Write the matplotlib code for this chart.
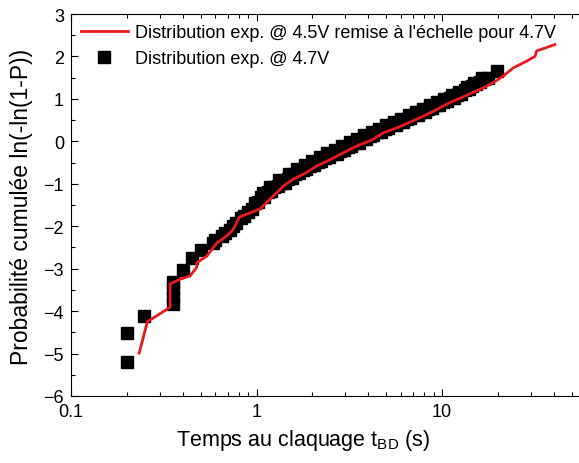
import matplotlib
matplotlib.use("Agg")
import matplotlib.pyplot as plt
from matplotlib.ticker import LogLocator, MultipleLocator, FixedLocator, NullFormatter

plt.rcParams['font.family'] = ['Liberation Sans', 'DejaVu Sans']

# Measured breakdown times at 4.7 V (Weibull plot)
t_47 = [0.20, 0.20, 0.248, 0.353, 0.353, 0.353, 0.353, 0.40, 0.45, 0.50,
        0.58, 0.60, 0.65, 0.68, 0.72, 0.75, 0.78, 0.82, 0.86, 0.90,
        0.94, 0.98, 1.02, 1.06, 1.10, 1.15, 1.20, 1.25, 1.30, 1.36,
        1.42, 1.48, 1.55, 1.62, 1.70, 1.78, 1.86, 1.95, 2.04, 2.14,
        2.24, 2.35, 2.46, 2.58, 2.70, 2.83, 2.96, 3.10, 3.25, 3.40,
        3.56, 3.73, 3.90, 4.08, 4.27, 4.47, 4.68, 4.90, 5.13, 5.37,
        5.62, 5.88, 6.15, 6.44, 6.74, 7.05, 7.38, 7.72, 8.08, 8.45,
        8.84, 9.25, 9.68, 10.1, 10.6, 11.1, 11.6, 12.1, 12.7, 13.3,
        13.9, 14.6, 15.3, 16.1, 16.9, 17.8, 19.7,
        1.08, 1.18, 1.33, 1.50, 1.66, 1.82, 2.00, 2.20, 2.40, 2.64,
        2.90, 3.18, 3.48, 3.82, 4.18, 4.58, 5.00, 5.50, 6.00, 6.60,
        7.20, 7.90, 8.65, 9.45, 10.3, 11.3, 12.4, 13.6, 14.9, 16.5]
w_47 = [-5.21, -4.52, -4.12, -3.84, -3.66, -3.48, -3.32, -3.02, -2.74, -2.57,
        -2.40, -2.33, -2.24, -2.16, -2.08, -1.99, -1.92, -1.80, -1.76, -1.66,
        -1.60, -1.46, -1.42, -1.32, -1.30, -1.20, -1.18, -1.08, -1.06, -0.98,
        -0.97, -0.88, -0.86, -0.78, -0.74, -0.67, -0.66, -0.57, -0.56, -0.49,
        -0.47, -0.40, -0.38, -0.31, -0.30, -0.23, -0.20, -0.13, -0.12, -0.04,
        -0.03, 0.05, 0.06, 0.13, 0.14, 0.22, 0.23, 0.30, 0.31, 0.38,
        0.38, 0.45, 0.46, 0.53, 0.54, 0.61, 0.62, 0.69, 0.70, 0.77,
        0.78, 0.85, 0.86, 0.92, 0.94, 1.01, 1.02, 1.10, 1.12, 1.20,
        1.24, 1.31, 1.36, 1.40, 1.47, 1.50, 1.65,
        -1.22, -1.08, -0.92, -0.78, -0.66, -0.56, -0.46, -0.36, -0.28, -0.20,
        -0.10, -0.02, 0.06, 0.14, 0.22, 0.30, 0.38, 0.45, 0.53, 0.62,
        0.70, 0.77, 0.85, 0.93, 1.00, 1.08, 1.16, 1.27, 1.37, 1.49]

# 4.5 V distribution rescaled to 4.7 V
t_45 = [0.233, 0.258, 0.342, 0.342, 0.387, 0.438, 0.476, 0.476, 0.54, 0.61,
        0.69, 0.75, 0.81, 0.88, 1.04, 1.23, 1.40, 1.58, 1.85, 2.11,
        2.45, 2.82, 3.19, 3.60, 4.09, 4.83, 5.80, 7.30, 8.90, 11.0,
        13.5, 16.7, 19.5, 21.4, 24.2, 28.6, 31.7, 32.4, 36.0, 40.6]
w_45 = [-4.99, -4.25, -3.91, -3.36, -3.25, -3.17, -2.97, -2.86, -2.70, -2.40,
        -2.23, -2.07, -1.78, -1.72, -1.60, -1.29, -1.05, -0.89, -0.74, -0.58,
        -0.45, -0.31, -0.19, -0.08, 0.01, 0.20, 0.33, 0.52, 0.70, 0.91,
        1.08, 1.26, 1.42, 1.54, 1.73, 1.89, 2.00, 2.13, 2.20, 2.28]

fig = plt.figure(figsize=(5.79, 4.64), dpi=100)
ax = fig.add_axes([71 / 579, 67 / 464, 556.5 / 579, 382 / 464])

ax.plot(t_45, w_45, color='#e8191e', lw=2.0, zorder=3,
        label="Distribution exp. @ 4.5V remise à l'échelle pour 4.7V")
ax.plot(t_47, w_47, ls='none', marker='s', ms=8, color='black', zorder=2,
        label="Distribution exp. @ 4.7V")

ax.set_xscale('log')
ax.set_xlim(0.1, 100)
ax.set_ylim(-6, 3)

ax.xaxis.set_major_locator(FixedLocator([0.1, 1, 10]))
ax.set_xticklabels(['0.1', '1', '10'])
ax.xaxis.set_minor_locator(LogLocator(base=10, subs=range(2, 10)))
ax.xaxis.set_minor_formatter(NullFormatter())
ax.yaxis.set_major_locator(MultipleLocator(1))
ax.yaxis.set_minor_locator(MultipleLocator(0.5))

ax.tick_params(which='both', direction='in', top=True, right=True,
               labelsize=13, width=0.8, pad=5)
ax.tick_params(which='major', length=5)
ax.tick_params(which='minor', length=3)
for s in ax.spines.values():
    s.set_linewidth(0.8)

ax.set_xlabel(r'Temps au claquage t$_{\mathregular{BD}}$ (s)', fontsize=15.5)
ax.xaxis.set_label_coords(0.417, -0.081)
ax.set_ylabel('Probabilité cumulée ln(-ln(1-P))', fontsize=16.5)
ax.yaxis.set_label_coords(-0.068, 0.498)

ax.legend(loc='upper left', frameon=False, fontsize=13, handlelength=2.6,
          handletextpad=0.4, borderaxespad=0.15, labelspacing=0.5,
          bbox_to_anchor=(0.0, 1.0))

fig.savefig('out.png', dpi=100)
